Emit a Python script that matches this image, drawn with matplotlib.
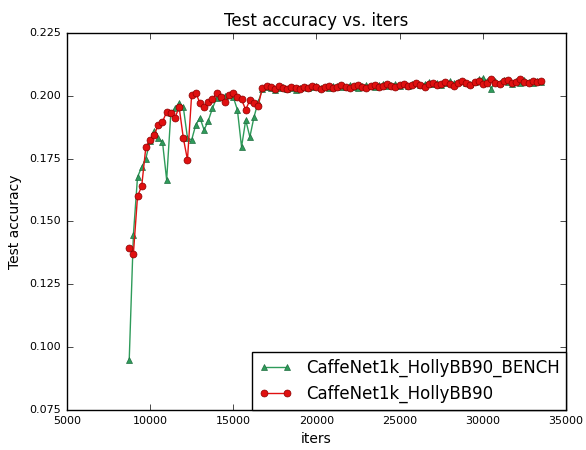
import matplotlib
matplotlib.use("Agg")
import matplotlib.pyplot as plt

iters = list(range(8750, 33501, 250))

acc_bench = [0.0948, 0.1446, 0.1677, 0.1716, 0.1750, 0.1820, 0.1860, 0.1830, 0.1816, 0.1665,
             0.1930, 0.1950, 0.1971, 0.1955, 0.1832, 0.1824, 0.1884, 0.1912, 0.1864, 0.1900,
             0.1950, 0.1990, 0.1995, 0.2000, 0.2003, 0.1995, 0.1944, 0.1796, 0.1903, 0.1836,
             0.1916, 0.1975,
             0.2025, 0.2033, 0.2030, 0.2022, 0.2031, 0.2035, 0.2027, 0.2030, 0.2024, 0.2032,
             0.2036, 0.2029, 0.2033, 0.2038, 0.2030, 0.2034, 0.2031, 0.2037, 0.2040, 0.2033,
             0.2036, 0.2042, 0.2035, 0.2030, 0.2039, 0.2043, 0.2037, 0.2034, 0.2041, 0.2045,
             0.2038, 0.2043, 0.2048, 0.2040, 0.2045, 0.2037, 0.2046, 0.2051, 0.2043, 0.2048,
             0.2054, 0.2046, 0.2050, 0.2042, 0.2052, 0.2057, 0.2049, 0.2055, 0.2060, 0.2051,
             0.2047, 0.2053, 0.2066, 0.2070, 0.2058, 0.2028, 0.2060, 0.2052, 0.2063, 0.2055,
             0.2048, 0.2058, 0.2052, 0.2061, 0.2056, 0.2050, 0.2059, 0.2054]

acc_holly = [0.1395, 0.1370, 0.1600, 0.1640, 0.1796, 0.1824, 0.1844, 0.1884, 0.1896, 0.1936,
             0.1932, 0.1912, 0.1955, 0.1832, 0.1745, 0.2003, 0.2011, 0.1971, 0.1955, 0.1975,
             0.1985, 0.2011, 0.1995, 0.1975, 0.2003, 0.2011, 0.1995, 0.1985, 0.1944, 0.1983,
             0.1971, 0.1960,
             0.2031, 0.2040, 0.2035, 0.2028, 0.2038, 0.2030, 0.2025, 0.2036, 0.2032, 0.2027,
             0.2035, 0.2030, 0.2038, 0.2033, 0.2028, 0.2036, 0.2040, 0.2031, 0.2035, 0.2042,
             0.2034, 0.2029, 0.2037, 0.2041, 0.2036, 0.2032, 0.2039, 0.2044, 0.2035, 0.2040,
             0.2046, 0.2038, 0.2033, 0.2042, 0.2047, 0.2039, 0.2044, 0.2050, 0.2041, 0.2036,
             0.2045, 0.2052, 0.2043, 0.2048, 0.2055, 0.2046, 0.2040, 0.2050, 0.2058, 0.2049,
             0.2044, 0.2053, 0.2060, 0.2047, 0.2052, 0.2065, 0.2051, 0.2046, 0.2057, 0.2062,
             0.2050, 0.2055, 0.2068, 0.2054, 0.2049, 0.2060, 0.2056, 0.2058]

labels = ["CaffeNet1k_HollyBB90_BENCH", "CaffeNet1k_HollyBB90"]
xticks = [5000, 10000, 15000, 20000, 25000, 30000, 35000]
yticks = [0.075, 0.100, 0.125, 0.150, 0.175, 0.200, 0.225]

plt.style.use("classic")
plt.rcParams["savefig.facecolor"] = "white"
plt.rcParams["figure.facecolor"] = "white"

fig = plt.figure(figsize=(5.86, 4.5), dpi=100)
ax = fig.add_axes([0.114, 0.089, 0.852, 0.838])

ax.plot(iters, acc_bench, "-^", color="#2e9b5a", markeredgecolor="#1f6e40",
        markersize=5, linewidth=1, label=labels[0])
ax.plot(iters, acc_holly, "-o", color="#e01010", markeredgecolor="#8b0000",
        markersize=5, linewidth=1, label=labels[1])

ax.set_xlim(5000, 35000)
ax.set_ylim(0.075, 0.225)
ax.set_xticks(xticks)
ax.set_yticks(yticks)
ax.set_yticklabels(["%.3f" % v for v in yticks])
ax.tick_params(labelsize=8)
ax.set_title("Test accuracy vs. iters", fontsize=12)
ax.set_xlabel("iters", fontsize=10)
ax.set_ylabel("Test accuracy", fontsize=10)
ax.legend(loc="lower right", fontsize=12, numpoints=2, borderaxespad=0,
          handlelength=2)

fig.savefig("out.png", dpi=100)
